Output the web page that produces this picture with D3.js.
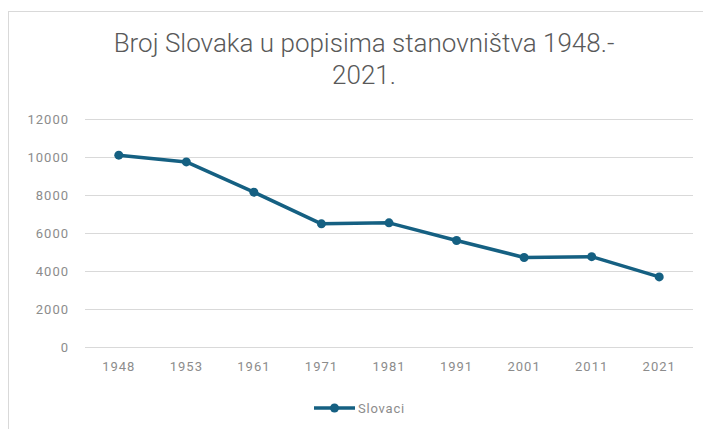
<!doctype html>
<html lang="hr">
<head>
<meta charset="utf-8">
<title>Broj Slovaka u popisima stanovništva</title>
<style>
  body { margin: 0; background: #fff; }
  svg { display: block; font-family: Roboto, "Open Sans", sans-serif; }
</style>
</head>
<body>
<div id="chart"></div>
<script src="https://d3js.org/d3.v7.min.js"></script>
<script>
// census years and number of Slovaks
const years = ["1948", "1953", "1961", "1971", "1981", "1991", "2001", "2011", "2021"];
const slovaci = [10097, 9740, 8150, 6482, 6533, 5606, 4712, 4753, 3688];
const yTicks = [0, 2000, 4000, 6000, 8000, 10000, 12000];
const seriesName = "Slovaci";
const titleLines = ["Broj Slovaka u popisima stanovništva 1948.-", "2021."];

const width = 703, height = 429;
const color = "#156082";
const labelColor = "#8c8c8c";

const svg = d3.select("#chart").append("svg")
    .attr("width", width)
    .attr("height", height);

// chart frame
svg.append("rect")
    .attr("x", 8.5).attr("y", 11.5)
    .attr("width", 720).attr("height", 440)
    .attr("fill", "#fff")
    .attr("stroke", "#d9d9d9");

const x = d3.scaleBand().domain(years).range([85, 693]);
const y = d3.scaleLinear().domain([0, 12000]).range([347, 119]);

// title
svg.append("g").selectAll("text")
    .data(titleLines)
    .enter().append("text")
    .attr("x", 364)
    .attr("y", (d, i) => 52 + i * 32)
    .attr("text-anchor", "middle")
    .attr("font-size", 26)
    .attr("font-weight", 300)
    .attr("fill", "#595959")
    .text(d => d);

// gridlines + y labels
const yAxis = svg.append("g")
    .attr("transform", "translate(85,0)")
    .call(d3.axisLeft(y).tickValues(yTicks).tickFormat(d3.format("d"))
        .tickSize(-608).tickPadding(16));
yAxis.select(".domain").remove();
yAxis.selectAll(".tick line").attr("stroke", "#d9d9d9");
yAxis.selectAll(".tick text")
    .attr("fill", labelColor)
    .attr("font-size", 13)
    .attr("letter-spacing", 1)
    .attr("font-family", "Roboto, sans-serif");

// x labels
const xAxis = svg.append("g")
    .attr("transform", "translate(0,347)")
    .call(d3.axisBottom(x).tickSize(0).tickPadding(15));
xAxis.select(".domain").remove();
xAxis.selectAll(".tick text")
    .attr("fill", labelColor)
    .attr("font-size", 13)
    .attr("letter-spacing", 1)
    .attr("font-family", "Roboto, sans-serif");

const cx = d => x(d) + x.bandwidth() / 2;

const line = d3.line()
    .x((d, i) => cx(years[i]))
    .y(d => y(d));

svg.append("path")
    .datum(slovaci)
    .attr("d", line)
    .attr("fill", "none")
    .attr("stroke", color)
    .attr("stroke-width", 3.5)
    .attr("stroke-linejoin", "round");

svg.append("g").selectAll("circle")
    .data(slovaci)
    .enter().append("circle")
    .attr("cx", (d, i) => cx(years[i]))
    .attr("cy", d => y(d))
    .attr("r", 4.5)
    .attr("fill", color);

// legend
const lg = svg.append("g").attr("transform", "translate(0,408)");
lg.append("line")
    .attr("x1", 314).attr("x2", 355)
    .attr("stroke", color).attr("stroke-width", 3.5);
lg.append("circle")
    .attr("cx", 334.5).attr("r", 4.5).attr("fill", color);
lg.append("text")
    .attr("x", 358).attr("dy", "0.35em")
    .attr("font-size", 13)
    .attr("letter-spacing", 0.8)
    .attr("fill", labelColor)
    .text(seriesName);
</script>
</body>
</html>
